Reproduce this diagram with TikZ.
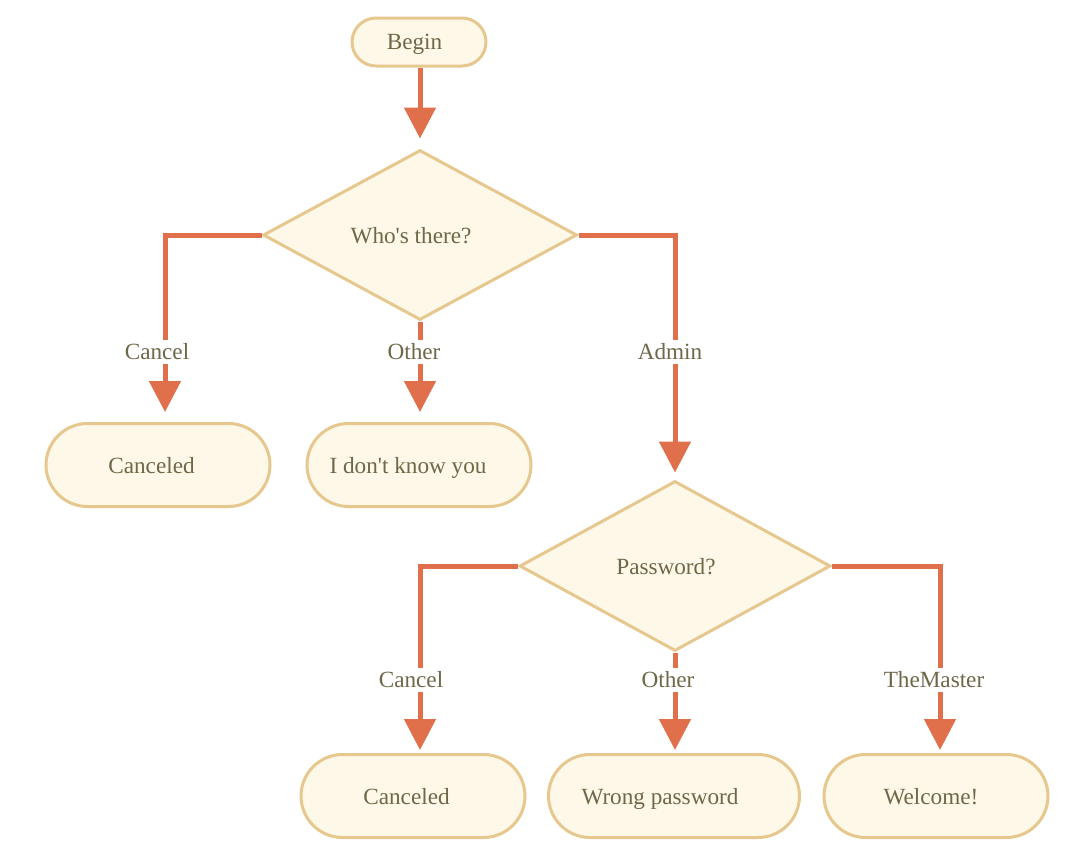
\documentclass[tikz,border=0pt]{standalone}
\usepackage{fontspec}
\setmainfont{Liberation Serif}
\usetikzlibrary{shapes.geometric,arrows.meta}
\definecolor{linec}{HTML}{E0704C}
\definecolor{fillc}{HTML}{FDF8E8}
\definecolor{borderc}{HTML}{E6C88E}
\definecolor{textc}{HTML}{6E6848}
\begin{document}
\begin{tikzpicture}[x=1pt,y=-1pt,
  every node/.style={font=\fontsize{23.2}{28}\selectfont, text=textc},
  term/.style={draw=borderc, fill=fillc, line width=3pt, rounded corners=41.5pt, minimum width=224pt, minimum height=83pt, inner sep=0pt, text depth=0pt},
  dec/.style={draw=borderc, fill=fillc, line width=3pt, diamond, minimum width=314pt, minimum height=170pt, inner sep=0pt, text depth=0pt},
  conn/.style={draw=linec, line width=5pt},
  arr/.style={conn, -{Triangle[width=31pt,length=31pt]}},
  lab/.style={fill=white, inner sep=4pt}]
\useasboundingbox (0,0) rectangle (1080,857);
% nodes
\node[term, rounded corners=24pt, minimum width=134pt, minimum height=48pt] (begin) at (419,42) {Begin\hspace*{9pt}};
\node[dec] (d1) at (420,235) {Who\textquotesingle s there?\hspace*{18pt}};
\node[term] (c1) at (158,465) {Canceled\hspace*{13pt}};
\node[term] (c2) at (419,465) {I don\textquotesingle t know you\hspace*{22pt}};
\node[dec, minimum width=311pt] (d2) at (675,566) {Password?\hspace*{18pt}};
\node[term] (c3) at (413,796) {Canceled\hspace*{13pt}};
\node[term, minimum width=251pt] (c4) at (674,796) {Wrong password\hspace*{28pt}};
\node[term] (c5) at (936,796) {Welcome!\hspace*{10pt}};
% corners
\coordinate (k1) at (165,235);
\coordinate (k2) at (675,235);
\coordinate (k3) at (420,566);
\coordinate (k4) at (940,566);
% connectors
\draw[arr, shorten >=10pt] (begin.south -| d1.north) -- (d1.north);
\draw[arr, shorten >=10pt] (d1.west) -- (k1) -- (k1 |- c1.north);
\draw[arr, shorten >=10pt] (d1.south) -- (d1.south |- c2.north);
\draw[arr, shorten >=7pt] (d1.east) -- (k2) -- (d2.north);
\draw[arr, shorten >=3pt] (d2.west) -- (k3) -- (k3 |- c3.north);
\draw[arr, shorten >=3pt] (d2.south) -- (d2.south |- c4.north);
\draw[arr, shorten >=3pt] (d2.east) -- (k4) -- (k4 |- c5.north);
% labels
\node[lab] (l1) at (157,352) {Cancel};
\node[lab] (l2) at (414,352) {Other};
\node[lab] (l3) at (670,352) {Admin};
\node[lab] (l4) at (411,680) {Cancel};
\node[lab] (l5) at (668,680) {Other};
\node[lab] (l6) at (934,680) {TheMaster};
\end{tikzpicture}
\end{document}
